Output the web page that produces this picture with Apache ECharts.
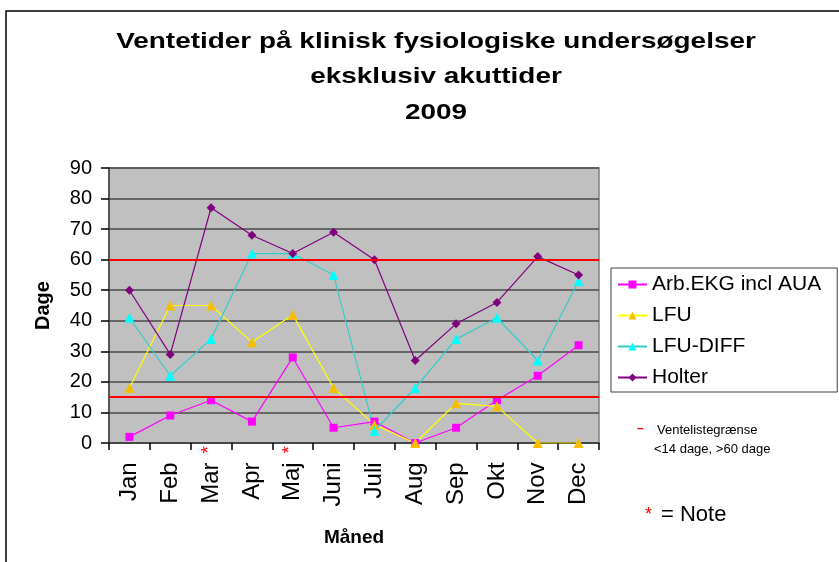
<!DOCTYPE html>
<html>
<head>
<meta charset="utf-8">
<script src="https://cdn.jsdelivr.net/npm/echarts@6/dist/echarts.min.js"></script>
<style>
html,body{margin:0;padding:0;background:#fff;}
#c{width:839px;height:562px;}
</style>
</head>
<body>
<div id="c"></div>
<script>
var months = ['Jan','Feb','Mar','Apr','Maj','Juni','Juli','Aug','Sep','Okt','Nov','Dec'];
var noteMonths = ['Mar','Maj'];
var arbEKG = [2, 9, 14, 7, 28, 5, 7, 0, 5, 14, 22, 32];
var lfu = [18, 45, 45, 33, 42, 18, 6, 0, 13, 12, 0, 0];
var lfuDiff = [41, 22, 34, 62, 62, 55, 4, 18, 34, 41, 27, 53];
var holter = [50, 29, 77, 68, 62, 69, 60, 27, 39, 46, 61, 55];
var limits = [15, 60];
var yTicks = [0, 10, 20, 30, 40, 50, 60, 70, 80, 90];
var titleText = 'Ventetider på klinisk fysiologiske undersøgelser\neksklusiv akuttider\n2009';

var FONT = '"Liberation Sans", Arial, sans-serif';
var chart = echarts.init(document.getElementById('c'), null, {renderer:'canvas'});

var limitLine = {
  silent: true,
  symbol: ['none','none'],
  label: {show:false},
  lineStyle: {color:'#FF0000', width:2, type:'solid'},
  data: limits.map(function(v){ return {yAxis: v}; })
};

chart.setOption({
  animation: false,
  backgroundColor: '#fff',
  textStyle: {fontFamily: FONT},
  grid: {
    left: 109, right: 240, top: 168, bottom: 119,
    show: true, backgroundColor: '#C0C0C0', borderColor: '#808080', borderWidth: 1.5
  },
  legend: {
    orient: 'vertical', left: 611, top: 268,
    borderColor: '#404040', borderWidth: 1, padding: [6, 16, 4, 6],
    itemGap: 10, itemWidth: 29, itemHeight: 10,
    textStyle: {fontFamily: FONT, fontSize: 21, color:'#000'},
    data: ['Arb.EKG incl AUA','LFU','LFU-DIFF','Holter']
  },
  xAxis: {
    type: 'category', data: months, boundaryGap: true,
    name: 'Måned', nameLocation: 'middle', nameGap: 85,
    nameTextStyle: {fontFamily: FONT, fontSize: 19, fontWeight:'bold', color:'#000'},
    axisLine: {lineStyle: {color:'#404040', width: 1.5}},
    axisTick: {show: true, length: 7, inside: false, lineStyle:{color:'#000', width:1.5}},
    axisLabel: {
      rotate: 90, margin: 3, interval: 0,
      formatter: function(v){
        return '{t|' + v + '}' + (noteMonths.indexOf(v) >= 0 ? '{s|*}' : '{h|*}');
      },
      rich: {
        t: {fontFamily: FONT, fontSize: 24, color:'#000'},
        s: {fontFamily: FONT, fontSize: 19, color:'#FF0000', padding:[0,0,0,9], verticalAlign:'top'},
        h: {fontFamily: FONT, fontSize: 19, color:'rgba(0,0,0,0)', padding:[0,0,0,9], verticalAlign:'top'}
      }
    },
    splitLine: {show:false}
  },
  yAxis: {
    type: 'value', min: 0, max: 90, interval: 10,
    name: 'Dage', nameLocation: 'middle', nameGap: 56, nameRotate: 90,
    nameTextStyle: {fontFamily: FONT, fontSize: 20, fontWeight:'bold', color:'#000'},
    axisLine: {show: true, lineStyle: {color:'#404040', width: 1.5}},
    axisTick: {show: true, length: 8, lineStyle:{color:'#000', width:1.5}},
    axisLabel: {
      margin: 17, fontFamily: FONT, fontSize: 20, color:'#000',
      formatter: function(v){ return yTicks.indexOf(v) >= 0 ? String(v) : ''; }
    },
    splitLine: {show: true, lineStyle: {color:'#4a4a4a', width: 1.5}}
  },
  series: [
    {
      name: 'Arb.EKG incl AUA', type: 'line', data: arbEKG,
      symbol: 'rect', symbolSize: 8,
      lineStyle: {color:'#FF00FF', width: 1.2},
      itemStyle: {color:'#FF00FF', borderWidth: 0},
      markLine: limitLine, z: 3
    },
    {
      name: 'LFU', type: 'line', data: lfu,
      symbol: 'triangle', symbolSize: 10,
      lineStyle: {color:'#FFFF00', width: 1.2},
      itemStyle: {color:'#F5BE00', borderWidth: 0}, z: 3
    },
    {
      name: 'LFU-DIFF', type: 'line', data: lfuDiff,
      symbol: 'triangle', symbolSize: 10,
      lineStyle: {color:'#33CCCC', width: 1.2},
      itemStyle: {color:'#00FFFF', borderWidth: 0}, z: 3
    },
    {
      name: 'Holter', type: 'line', data: holter,
      symbol: 'diamond', symbolSize: 9,
      lineStyle: {color:'#800080', width: 1.2},
      itemStyle: {color:'#800080', borderWidth: 0}, z: 3
    }
  ],
  graphic: [
    {type:'rect', shape:{x:6, y:11, width:900, height:700}, style:{fill:'none', stroke:'#000', lineWidth:1.5}, silent:true},
    {type:'text', x: 436, y: 24, scaleX: 1.27,
      style:{text: titleText, fill:'#000', font:'bold 22px ' + FONT, align:'center', verticalAlign:'top', lineHeight: 35.5}},
    {type:'text', x: 637, y: 429, style:{text:'–', fill:'#FF0000', font:'bold 12px ' + FONT, verticalAlign:'middle'}},
    {type:'text', x: 657, y: 430, style:{text:'Ventelistegrænse', fill:'#000', font:'13px ' + FONT, verticalAlign:'middle'}},
    {type:'text', x: 654, y: 449, style:{text:'<14 dage, >60 dage', fill:'#000', font:'13px ' + FONT, verticalAlign:'middle'}},
    {type:'text', x: 645, y: 515, style:{text:'*', fill:'#FF0000', font:'18px ' + FONT, verticalAlign:'middle'}},
    {type:'text', x: 661, y: 515, style:{text:'= Note', fill:'#000', font:'22px ' + FONT, verticalAlign:'middle'}}
  ]
});
</script>
</body>
</html>
